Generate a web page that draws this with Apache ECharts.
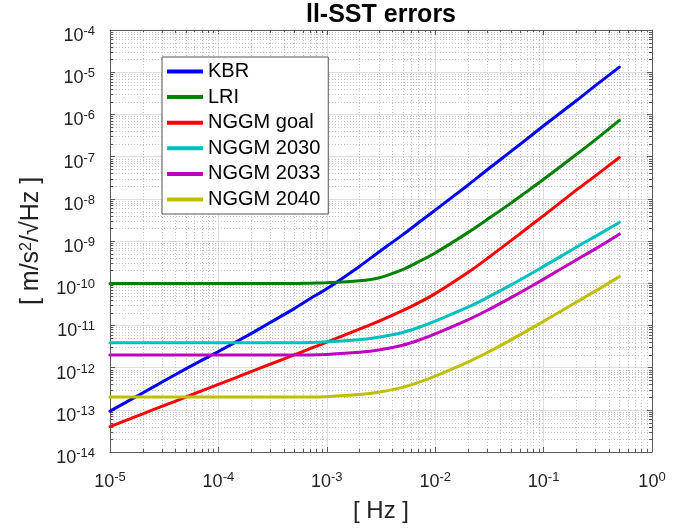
<!DOCTYPE html>
<html>
<head>
<meta charset="utf-8">
<script src="https://cdn.jsdelivr.net/npm/echarts@6/dist/echarts.min.js"></script>
<style>
html,body{margin:0;padding:0;background:#fff;}
#chart{width:693px;height:530px;}
</style>
</head>
<body>
<div id="chart"></div>
<script>
// Frequencies [Hz]
const freqHz = [1e-5, 2e-5, 3e-5, 5e-5, 7e-5,
                1e-4, 2e-4, 3e-4, 5e-4, 7e-4,
                1e-3, 2e-3, 3e-3, 5e-3, 7e-3,
                1e-2, 2e-2, 3e-2, 5e-2, 7e-2,
                0.1, 0.2, 0.3, 0.5];
// Errors [m/s^2/sqrt(Hz)]
const kbrErr   = [9.3e-14, 2.5e-13, 4.5e-13, 9.3e-13, 1.48e-12,
                  2.4e-12, 6.4e-12, 1.17e-11, 2.5e-11, 4.3e-11,
                  7.4e-11, 2.5e-10, 5.4e-10, 1.4e-9, 2.7e-9,
                  5.4e-9, 2.1e-8, 4.8e-8, 1.33e-7, 2.6e-7,
                  5.4e-7, 2.1e-6, 4.8e-6, 1.32e-5];
const lriErr   = [9.8e-11, 9.8e-11, 9.8e-11, 9.8e-11, 9.8e-11,
                  9.8e-11, 9.8e-11, 9.8e-11, 9.8e-11, 1.0e-10,
                  1.02e-10, 1.14e-10, 1.33e-10, 2.1e-10, 3.2e-10,
                  5.2e-10, 1.58e-9, 3.2e-9, 7.9e-9, 1.48e-8,
                  2.9e-8, 1.12e-7, 2.5e-7, 7.2e-7];
const goalErr  = [4.0e-14, 8.0e-14, 1.2e-13, 2.0e-13, 2.8e-13,
                  4.0e-13, 8.0e-13, 1.2e-12, 2.0e-12, 2.81e-12,
                  4.02e-12, 8.16e-12, 1.25e-11, 2.24e-11, 3.42e-11,
                  5.66e-11, 1.79e-10, 3.79e-10, 1.02e-9, 1.98e-9,
                  4.0e-9, 1.6e-8, 3.5e-8, 9.5e-8];
const n2030Err = [3.9e-12, 3.9e-12, 3.9e-12, 3.9e-12, 3.9e-12,
                  3.9e-12, 3.9e-12, 3.9e-12, 3.9e-12, 3.95e-12,
                  4.1e-12, 4.57e-12, 5.25e-12, 6.8e-12, 8.9e-12,
                  1.26e-11, 2.7e-11, 4.5e-11, 9.1e-11, 1.48e-10,
                  2.5e-10, 7.1e-10, 1.29e-9, 2.75e-9];
const n2033Err = [2.0e-12, 2.0e-12, 2.0e-12, 2.0e-12, 2.0e-12,
                  2.0e-12, 2.0e-12, 2.0e-12, 2.0e-12, 2.0e-12,
                  2.05e-12, 2.3e-12, 2.6e-12, 3.4e-12, 4.45e-12,
                  6.3e-12, 1.35e-11, 2.25e-11, 4.55e-11, 7.4e-11,
                  1.25e-10, 3.55e-10, 6.5e-10, 1.45e-9];
const n2040Err = [2.0e-13, 2.0e-13, 2.0e-13, 2.0e-13, 2.0e-13,
                  2.0e-13, 2.0e-13, 2.0e-13, 2.0e-13, 2.0e-13,
                  2.05e-13, 2.3e-13, 2.6e-13, 3.4e-13, 4.45e-13,
                  6.3e-13, 1.35e-12, 2.25e-12, 4.55e-12, 7.4e-12,
                  1.25e-11, 3.55e-11, 6.5e-11, 1.43e-10];

const seriesNames = ['KBR', 'LRI', 'NGGM goal', 'NGGM 2030', 'NGGM 2033', 'NGGM 2040'];
const seriesValues = [kbrErr, lriErr, goalErr, n2030Err, n2033Err, n2040Err];
const seriesColors = ['#0000ff', '#008000', '#ff0000', '#00bfbf', '#bf00bf', '#bfbf00'];

const xMin = 1e-5, xMax = 1;
const yMin = 1e-14, yMax = 1e-4;

const FONT = 'Liberation Sans, Arial, Helvetica, sans-serif';
const AXIS_COLOR = '#5a5a5a';

// minor grid positions (2..9 x 10^k)
const minorGrid = [];
for (let e = -5; e < 0; e++) for (let k = 2; k <= 9; k++) { const v = k * Math.pow(10, e); minorGrid.push([v, yMin, v, yMax]); }
for (let e = -14; e < -4; e++) for (let k = 2; k <= 9; k++) { const v = k * Math.pow(10, e); minorGrid.push([xMin, v, xMax, v]); }

function powLabel(v) {
  const e = Math.round(Math.log10(v));
  return '{b|10}{s|' + e + '}';
}
const richTick = {
  b: { fontSize: 18, lineHeight: 20, verticalAlign: 'bottom', fontFamily: FONT, color: '#222' },
  s: { fontSize: 13, lineHeight: 2, verticalAlign: 'top', fontFamily: FONT, color: '#222' }
};

const chart = echarts.init(document.getElementById('chart'), null, { renderer: 'canvas' });

const series = [{
  name: '__minorgrid',
  type: 'custom',
  silent: true,
  z: 1,
  data: minorGrid,
  encode: { x: [0, 2], y: [1, 3] },
  renderItem: function (params, api) {
    const x0 = api.value(0), y0 = api.value(1), x1v = api.value(2), y1v = api.value(3);
    const p1 = api.coord([x0, y0]);
    const p2 = api.coord([x1v, y1v]);
    const vertical = x0 === x1v;
    let ax = p1[0], ay = p1[1], bx = p2[0], by = p2[1];
    if (vertical) { ax = bx = Math.round(ax) + 0.5; } else { ay = by = Math.round(ay) + 0.5; }
    const gridStyle = { stroke: '#c4c4c4', lineWidth: 1, lineDash: [1, 2], fill: null };
    const tickStyle = { stroke: AXIS_COLOR, lineWidth: 1, fill: null };
    const children = [{ type: 'line', shape: { x1: ax, y1: ay, x2: bx, y2: by }, style: gridStyle }];
    if (vertical) {
      children.push({ type: 'line', shape: { x1: ax, y1: ay, x2: ax, y2: ay - 3 }, style: tickStyle });
      children.push({ type: 'line', shape: { x1: bx, y1: by, x2: bx, y2: by + 3 }, style: tickStyle });
    } else {
      children.push({ type: 'line', shape: { x1: ax, y1: ay, x2: ax + 3, y2: ay }, style: tickStyle });
      children.push({ type: 'line', shape: { x1: bx, y1: by, x2: bx - 3, y2: by }, style: tickStyle });
    }
    return { type: 'group', children: children };
  }
}];
seriesNames.forEach((name, i) => {
  series.push({
    name: name,
    type: 'line',
    data: freqHz.map((f, j) => [f, seriesValues[i][j]]),
    showSymbol: false,
    symbol: 'none',
    smooth: 0.3,
    z: 3,
    color: seriesColors[i],
    lineStyle: { width: 3, color: seriesColors[i], cap: 'round', join: 'round' }
  });
});

const option = {
  animation: false,
  backgroundColor: '#ffffff',
  title: {
    text: 'll-SST errors',
    left: 381,
    textAlign: 'center',
    top: 3,
    padding: 0,
    textStyle: { fontSize: 25, fontWeight: 'bold', color: '#000', fontFamily: FONT }
  },
  grid: { left: 110, right: 41, top: 30, bottom: 78, containLabel: false },
  legend: {
    data: seriesNames,
    orient: 'vertical',
    left: 162,
    top: 57,
    padding: [3.5, 8, 3.5, 5],
    itemGap: 3.6,
    itemWidth: 36,
    itemHeight: 4,
    icon: 'rect',
    backgroundColor: '#ffffff',
    borderColor: '#555',
    borderWidth: 1,
    borderRadius: 0,
    textStyle: { fontSize: 20, lineHeight: 22, color: '#000', fontFamily: FONT }
  },
  xAxis: [{
    type: 'log',
    logBase: 10,
    min: xMin,
    max: xMax,
    interval: 1,
    position: 'bottom',
    name: '[ Hz ]',
    nameLocation: 'middle',
    nameGap: 47,
    nameTextStyle: { fontSize: 24, color: '#222', fontFamily: FONT },
    axisLine: { show: true, lineStyle: { color: AXIS_COLOR, width: 1 } },
    axisTick: { show: true, inside: true, length: 5, lineStyle: { color: AXIS_COLOR } },
    axisLabel: { formatter: powLabel, rich: richTick, margin: 19 },
    splitLine: { show: true, lineStyle: { color: '#dedede', width: 1 } }
  }, {
    type: 'log',
    logBase: 10,
    min: xMin,
    max: xMax,
    interval: 1,
    position: 'top',
    axisLine: { show: true, lineStyle: { color: AXIS_COLOR, width: 1 } },
    axisTick: { show: true, inside: true, length: 5, lineStyle: { color: AXIS_COLOR } },
    axisLabel: { show: false },
    splitLine: { show: false }
  }],
  yAxis: [{
    type: 'log',
    logBase: 10,
    min: yMin,
    max: yMax,
    interval: 1,
    position: 'left',
    name: '[ m/s{sup|2}/√Hz ]',
    nameLocation: 'middle',
    nameRotate: 90,
    nameGap: 66,
    nameTextStyle: {
      fontSize: 25, color: '#222', fontFamily: FONT,
      rich: { sup: { fontSize: 16, verticalAlign: 'top', lineHeight: 8, fontFamily: FONT, color: '#222' } }
    },
    axisLine: { show: true, lineStyle: { color: AXIS_COLOR, width: 1 } },
    axisTick: { show: true, inside: true, length: 5, lineStyle: { color: AXIS_COLOR } },
    axisLabel: { formatter: powLabel, rich: richTick, margin: 15, padding: [10, 0, 0, 0] },
    splitLine: { show: true, lineStyle: { color: '#dedede', width: 1 } }
  }, {
    type: 'log',
    logBase: 10,
    min: yMin,
    max: yMax,
    interval: 1,
    position: 'right',
    axisLine: { show: true, lineStyle: { color: AXIS_COLOR, width: 1 } },
    axisTick: { show: true, inside: true, length: 5, lineStyle: { color: AXIS_COLOR } },
    axisLabel: { show: false },
    splitLine: { show: false }
  }],
  series: series
};
chart.setOption(option);
</script>
</body>
</html>
